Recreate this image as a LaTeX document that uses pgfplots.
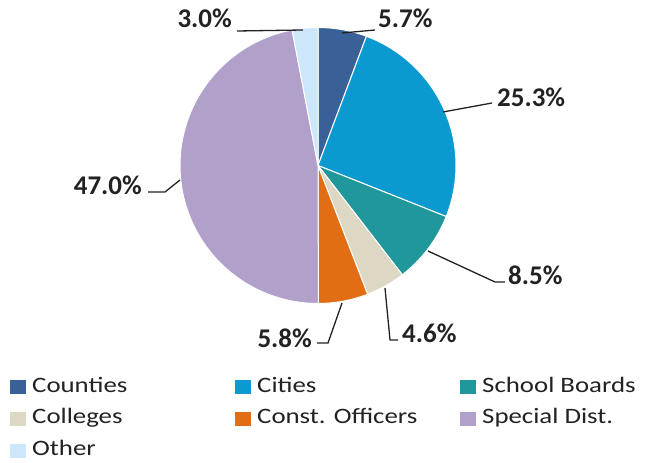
\documentclass[border=0pt]{standalone}
\usepackage{fontspec}
\setmainfont{Carlito}
\newfontfamily\legfont[FakeStretch=1.22]{Carlito}
\usepackage{pgfplots}
\pgfplotsset{compat=1.18}
\definecolor{cCounties}{HTML}{3A6098}
\definecolor{cCities}{HTML}{0A9AD0}
\definecolor{cSchool}{HTML}{20979A}
\definecolor{cColleges}{HTML}{DDD8C4}
\definecolor{cConst}{HTML}{E16E14}
\definecolor{cSpecial}{HTML}{B1A0CA}
\definecolor{cOther}{HTML}{CBE7F9}
\definecolor{txt}{HTML}{222222}
\begin{document}
\begin{tikzpicture}
\begin{axis}[
  x=1pt, y=1pt,
  xmin=0, xmax=651, ymin=0, ymax=463,
  hide axis, clip=false,
  legend columns=3,
  legend image code/.code={%
    \path[#1, draw=none] (0pt,-7pt) rectangle (16pt,7pt);
    \path (21.5pt,0pt);},
  legend style={at={(axis cs:10,86)}, anchor=north west, draw=none, fill=none,
    inner sep=0pt, row sep=11.7pt, font=\legfont\fontsize{22}{24}\selectfont\color{txt},
    nodes={inner sep=0pt, text height=15pt, text depth=5pt}},
  legend cell align=left,
]
\path (0,0) rectangle (651,463);
% slices: percentages, clockwise from 12 o'clock (total 99.9)
\addplot[fill=cCounties, draw=white, line width=1pt, domain=0:5.7, samples=20]
  ({318+138*cos(90-360*x/99.9)}, {297.5+138*sin(90-360*x/99.9)}) -- (318,297.5) -- cycle;
\addlegendentry{\makebox[203pt][l]{Counties}}
\addplot[fill=cCities, draw=white, line width=1pt, domain=5.7:31.0, samples=60]
  ({318+138*cos(90-360*x/99.9)}, {297.5+138*sin(90-360*x/99.9)}) -- (318,297.5) -- cycle;
\addlegendentry{\makebox[203pt][l]{Cities}}
\addplot[fill=cSchool, draw=white, line width=1pt, domain=31.0:39.5, samples=25]
  ({318+138*cos(90-360*x/99.9)}, {297.5+138*sin(90-360*x/99.9)}) -- (318,297.5) -- cycle;
\addlegendentry{\makebox[160pt][l]{School Boards}}
\addplot[fill=cColleges, draw=white, line width=1pt, domain=39.5:44.1, samples=20]
  ({318+138*cos(90-360*x/99.9)}, {297.5+138*sin(90-360*x/99.9)}) -- (318,297.5) -- cycle;
\addlegendentry{\makebox[203pt][l]{Colleges}}
\addplot[fill=cConst, draw=white, line width=1pt, domain=44.1:49.9, samples=20]
  ({318+138*cos(90-360*x/99.9)}, {297.5+138*sin(90-360*x/99.9)}) -- (318,297.5) -- cycle;
\addlegendentry{\makebox[203pt][l]{Const. Officers}}
\addplot[fill=cSpecial, draw=white, line width=1pt, domain=49.9:96.9, samples=100]
  ({318+138*cos(90-360*x/99.9)}, {297.5+138*sin(90-360*x/99.9)}) -- (318,297.5) -- cycle;
\addlegendentry{\makebox[160pt][l]{Special Dist.}}
\addplot[fill=cOther, draw=white, line width=1pt, domain=96.9:99.9, samples=15]
  ({318+138*cos(90-360*x/99.9)}, {297.5+138*sin(90-360*x/99.9)}) -- (318,297.5) -- cycle;
\addlegendentry{\makebox[203pt][l]{Other}}
% leader lines
\draw[txt, line width=1.3pt] (342,430) -- (375,433);
\draw[txt, line width=1.3pt] (303,433) -- (237,432);
\draw[txt, line width=1.3pt] (443,351) -- (492,360);
\draw[txt, line width=1.3pt] (428,212) -- (495,181) -- (505,181);
\draw[txt, line width=1.3pt] (385,175) -- (390,123) -- (398,123);
\draw[txt, line width=1.3pt] (342,160) -- (328,120) -- (317,120);
\draw[txt, line width=1.3pt] (180,283) -- (165,271) -- (148,271);
% labels
\begin{scope}[every node/.style={font=\fontsize{27}{30}\selectfont\bfseries, text=txt, inner sep=0pt}]
\node[anchor=west] at (378,445) {5.7\%};
\node[anchor=east] at (232,445) {3.0\%};
\node[anchor=west] at (497,366) {25.3\%};
\node[anchor=west] at (508,188) {8.5\%};
\node[anchor=west] at (402,130) {4.6\%};
\node[anchor=east] at (312,125) {5.8\%};
\node[anchor=east] at (142,278) {47.0\%};
\end{scope}
\end{axis}
\end{tikzpicture}
\end{document}
